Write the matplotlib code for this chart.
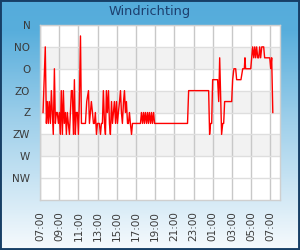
import matplotlib

matplotlib.use("Agg")
import matplotlib.pyplot as plt
import matplotlib.dates as mdates
import numpy as np
import pandas as pd
from matplotlib.colors import LinearSegmentedColormap
from matplotlib.patches import Rectangle

# wind direction readings (degrees, 0 = N), clock times over one day
TIMES = [
    "07:19", "07:33", "07:40", "07:46", "07:52", "07:58", "08:05", "08:11", "08:17", "08:23",
    "08:30", "08:36", "08:42", "08:48", "08:55", "09:01", "09:07", "09:13", "09:20", "09:26",
    "09:32", "09:39", "09:45", "09:51", "09:57", "10:04", "10:10", "10:16", "10:22", "10:29",
    "10:35", "10:41", "10:47", "10:54", "11:00", "11:06", "11:13", "11:19", "11:44", "11:52",
    "12:03", "12:09", "12:15", "12:21", "12:28", "12:34", "12:40", "12:46", "12:53", "12:59",
    "13:05", "13:11", "13:18", "13:24", "13:30", "13:36", "13:43", "13:49", "13:55", "14:01",
    "14:08", "14:14", "14:20", "14:27", "14:33", "14:39", "14:45", "14:52", "14:58", "15:04",
    "15:10", "15:17", "15:23", "15:29", "15:35", "15:42", "15:48", "15:54", "16:00", "16:07",
    "16:13", "16:19", "16:25", "16:32", "16:38",
    "17:28", "17:34", "17:41", "17:47", "17:53", "17:59", "18:06", "18:12", "18:18", "18:24",
    "18:31", "18:37", "18:43", "18:50", "18:56",
    "22:22", "22:29", "00:34", "00:40", "00:46", "00:53", "00:59", "01:30", "01:37", "01:43",
    "01:55", "02:02", "02:08", "02:14", "02:58",
    "03:04", "03:12", "03:23", "03:29", "03:56", "04:07", "04:17", "04:21", "04:25", "04:57",
    "05:03", "05:09", "05:16", "05:22", "05:28", "05:34", "05:41", "05:47", "05:53", "05:59",
    "06:06", "06:12", "06:18", "06:24", "06:56", "07:02", "07:08", "07:15",
]
DIRECTION = [
    180, 45, 202.5, 157.5, 202.5, 157.5, 202.5, 135, 180, 225,
    90, 202.5, 180, 180, 202.5, 180, 225, 135, 225, 135,
    202.5, 180, 225, 180, 202.5, 225, 180, 135, 135, 225,
    112.5, 225, 180, 180, 225, 157.5, 22.5, 202.5, 202.5, 157.5,
    135, 202.5, 180, 157.5, 180, 202.5, 202.5, 180, 225, 202.5,
    202.5, 202.5, 225, 202.5, 202.5, 135, 202.5, 225, 135, 180,
    135, 202.5, 225, 157.5, 202.5, 180, 157.5, 202.5, 157.5, 202.5,
    180, 157.5, 135, 180, 202.5, 157.5, 135, 180, 157.5, 202.5,
    202.5, 180, 202.5, 225, 202.5,
    202.5, 180, 202.5, 180, 202.5, 180, 202.5, 180, 202.5, 180,
    202.5, 180, 202.5, 180, 202.5,
    202.5, 135, 135, 225, 202.5, 202.5, 112.5, 112.5, 157.5, 67.5,
    225, 202.5, 202.5, 157.5, 157.5,
    112.5, 90, 90, 112.5, 112.5, 90, 90, 67.5, 90, 90,
    67.5, 45, 67.5, 45, 67.5, 45, 67.5, 67.5, 45, 67.5,
    45, 45, 45, 67.5, 67.5, 90, 67.5, 180,
]
COMPASS = ["N", "NO", "O", "ZO", "Z", "ZW", "W", "NW"]

# turn clock times into timestamps, rolling over midnight
base = pd.Timestamp("2024-01-01")
stamps = []
day = 0
prev = None
for t in TIMES:
    h, m = map(int, t.split(":"))
    if prev is not None and (h, m) < prev:
        day += 1
    prev = (h, m)
    stamps.append(base + pd.Timedelta(days=day, hours=h, minutes=m))

fig = plt.figure(figsize=(3, 2.5), dpi=100)

# gradient background + dark frame
bg = fig.add_axes([0, 0, 1, 1], zorder=-10)
cmap = LinearSegmentedColormap.from_list(
    "bg", [(0, "#55acdb"), (0.12, "#58aedc"), (0.5, "#a2d1eb"), (1.0, "#f6fafd")]
)
bg.imshow(np.linspace(0, 1, 250)[:, None], aspect="auto", cmap=cmap, extent=[0, 1, 0, 1])
bg.axis("off")
fig.patches.append(Rectangle((0, 0), 1, 1, transform=fig.transFigure, fill=False,
                             edgecolor="#173f66", linewidth=2.8))

fig.text(0.5, 1 - 12 / 250, "Windrichting", ha="center", va="center",
         fontsize=9.3, color="#1d3f6e")

ax = fig.add_axes([40 / 300, 50 / 250, 240 / 300, 175 / 250])
ax.set_facecolor("white")
for lo in (45, 135, 225):
    ax.axhspan(lo, lo + 45, color="#f2f2f2", zorder=0, lw=0)

ax.plot(stamps, DIRECTION, color="red", lw=1.0, zorder=3)

start = base + pd.Timedelta(hours=7)
ax.set_xlim(start, start + pd.Timedelta(hours=25))
ax.set_ylim(360, 0)
ax.set_yticks(np.arange(0, 360, 45))
ax.set_yticklabels(COMPASS)
ax.xaxis.set_major_locator(mdates.HourLocator(byhour=range(1, 24, 2)))
ax.xaxis.set_major_formatter(mdates.DateFormatter("%H:%M"))
plt.setp(ax.get_xticklabels(), rotation=90)

ax.xaxis.grid(True, color="#c8c8c8", lw=1.0, zorder=1)
ax.yaxis.grid(True, color="#dedede", lw=1.0, zorder=1)
ax.set_axisbelow(True)
for s in ax.spines.values():
    s.set_color("#cfcfcf")
    s.set_linewidth(1.0)
ax.tick_params(axis="both", length=0, labelsize=7.5, labelcolor="#3a3a3a")
ax.tick_params(axis="y", pad=7)
ax.tick_params(axis="x", pad=8)

fig.savefig("out.png", dpi=100)
